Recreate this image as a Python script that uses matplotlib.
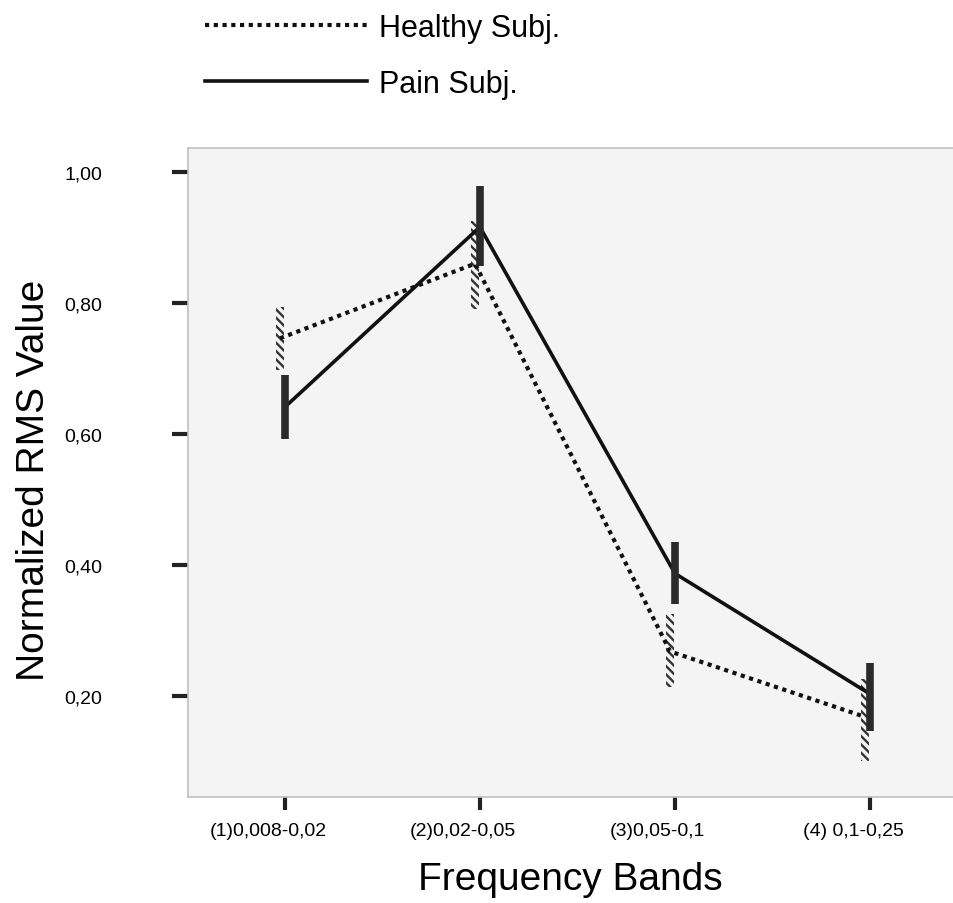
import numpy as np
import matplotlib
matplotlib.use('Agg')
import matplotlib.pyplot as plt
import matplotlib.transforms as mtransforms
from matplotlib.lines import Line2D

plt.rcParams['font.family'] = ['Liberation Sans', 'DejaVu Sans']
plt.rcParams['hatch.linewidth'] = 1.7

bands = ['(1)0,008-0,02', '(2)0,02-0,05', '(3)0,05-0,1', '(4) 0,1-0,25']

healthy_mean = [0.746, 0.860, 0.268, 0.168]
healthy_lo = [0.698, 0.791, 0.214, 0.101]
healthy_hi = [0.794, 0.925, 0.325, 0.226]

pain_mean = [0.641, 0.916, 0.387, 0.203]
pain_lo = [0.592, 0.856, 0.340, 0.147]
pain_hi = [0.690, 0.979, 0.435, 0.250]

yticks = [0.2, 0.4, 0.6, 0.8, 1.0]
ytick_labels = ['0,20', '0,40', '0,60', '0,80', '1,00']

x = np.arange(1, len(bands) + 1)
xh = x - 0.025

fig = plt.figure(figsize=(9.54, 9.04), dpi=100)
ax = fig.add_axes([0.197, 0.1173, 0.802, 0.7179])
ax.set_facecolor('#f4f4f4')

# healthy: dotted line + hatched error bars
ax.plot(xh, healthy_mean, color='#111111', lw=3.0, linestyle=(0, (1, 1.1)),
        solid_capstyle='butt', dash_capstyle='butt', zorder=3)
hl = np.array(healthy_lo)
hh = np.array(healthy_hi)
ax.bar(xh, hh - hl, bottom=hl, width=0.038, facecolor='none',
       edgecolor='#333333', linewidth=0, hatch='\\\\\\\\', zorder=2)

# pain: solid line + thick error bars
ax.plot(x, pain_mean, color='#111111', lw=2.6, zorder=4)
ax.vlines(x, pain_lo, pain_hi, color='#2a2a2a', lw=5.5, zorder=5)

ax.set_xlim(0.503, 4.426)
ax.set_ylim(0.0458, 1.0366)

ax.set_xticks(x)
ax.set_xticklabels(bands, fontsize=14)
ax.set_yticks(yticks)
ax.set_yticklabels(ytick_labels, fontsize=14)

ax.tick_params(axis='x', length=9, width=3, color='#222222', pad=9)
ax.tick_params(axis='y', length=11.5, width=3, color='#222222', pad=50)

shift = mtransforms.ScaledTranslation(-0.17, 0, fig.dpi_scale_trans)
for lab in ax.get_xticklabels():
    lab.set_transform(lab.get_transform() + shift)

for side in ['left', 'bottom', 'top']:
    ax.spines[side].set_color('#c0c0c0')
    ax.spines[side].set_linewidth(1.2)
ax.spines['right'].set_visible(False)

ax.set_ylabel('Normalized RMS Value', fontsize=28)
ax.yaxis.set_label_coords(-0.178, 0.49)
ax.set_xlabel('Frequency Bands', fontsize=28)
ax.xaxis.set_label_coords(0.5, -0.098)

handles = [
    Line2D([], [], color='#111111', lw=3.0, linestyle=(0, (1, 1.1))),
    Line2D([], [], color='#111111', lw=2.6),
]
fig.legend(handles, ['Healthy Subj.', 'Pain Subj.'], loc='upper left',
           bbox_to_anchor=(205 / 954, 1 - 14 / 904), frameon=False,
           fontsize=22, handlelength=5.3, handletextpad=0.4,
           labelspacing=0.85, borderpad=0, borderaxespad=0)

fig.savefig('out.png', dpi=100)
